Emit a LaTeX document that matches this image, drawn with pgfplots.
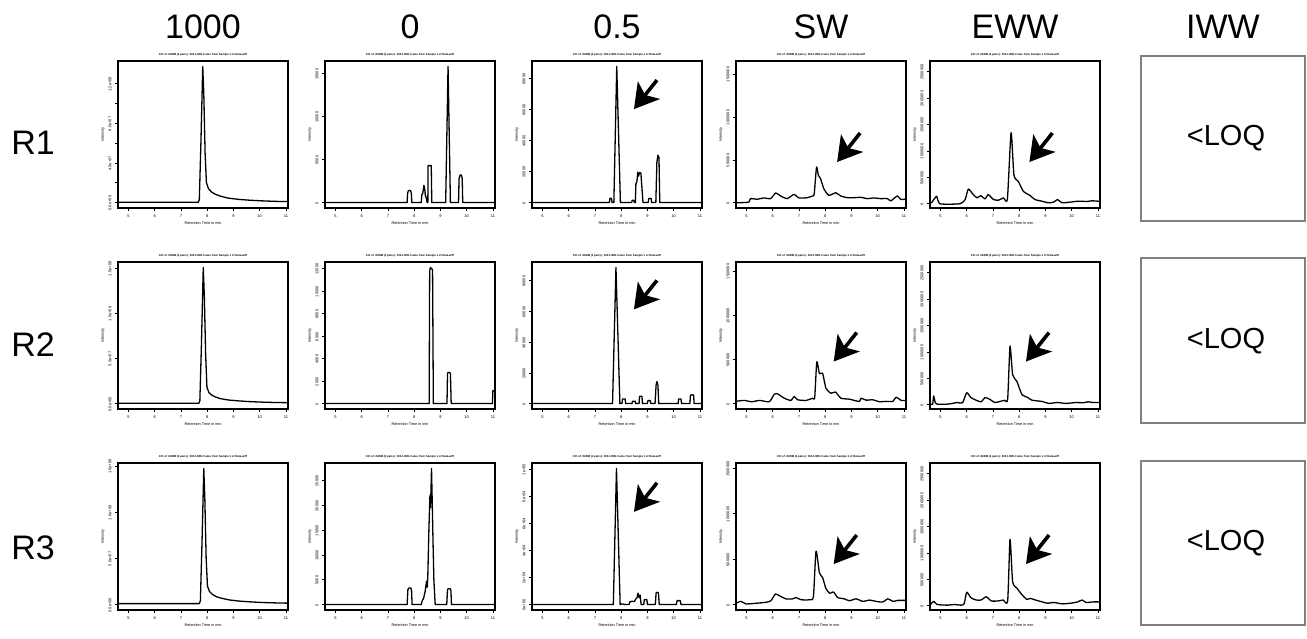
\documentclass[border=0pt]{standalone}
\usepackage{pgfplots}
\pgfplotsset{compat=1.18}
\usepackage{fontspec}
\setmainfont{Liberation Sans}
\usetikzlibrary{arrows.meta}
\tikzset{arr/.style={line width=3.6pt, -{Stealth[length=24pt,width=28pt,inset=6pt]}}}
\pgfplotsset{
 chrom/.style={
  scale only axis, width=170pt, height=147pt, anchor=north west,
  xmin=4.6, xmax=11.08, xtick={5,...,11},
  /pgf/number format/assume math mode=true,
  axis line style={line width=1.8pt},
  tick align=outside, xtick pos=bottom, ytick pos=left,
  major tick length=3pt,
  tick style={black, line width=0.7pt},
  tick label style={font=\fontsize{4}{4}\selectfont},
  yticklabel style={rotate=90, anchor=south, xshift=-0.5pt},
  xticklabel style={yshift=-0.5pt},
  scaled ticks=false,
  xlabel={Retention Time in min}, ylabel={Intensity},
  label style={font=\fontsize{3.8}{4}\selectfont},
  xlabel style={yshift=3pt}, ylabel style={yshift=-3pt},
  title style={font=\fontsize{2.8}{3}\selectfont\bfseries, yshift=-5pt},
  title={XIC of +MRM (4 pairs): 303.1/285.0 amu from Sample 1 of Data.wiff},
 },
 trace/.style={black, line width=1.3pt, line join=round, no marks},
 noisy/.style={black, line width=1.3pt, line join=round, no marks, smooth, tension=0.35},
 c1r1/.style={ymin=-5.5e6, ymax=1.43e8, ytick={0,2e7,4e7,6e7,8e7,1e8,1.2e8}, yticklabels={0.0e+00,,4.0e+07,,8.0e+07,,1.2e+08}},
 c1r2/.style={ytick={0,5e7,1e8,1.5e8}, yticklabels={0.0e+00,5.0e+07,1.0e+08,1.5e+08}},
 sw/.style={ytick={0,500000,1000000,1500000}, yticklabels={0,500000,1000000,1500000}},
 eww/.style={ymin=-80000, ymax=2.7e6, ytick={0,500000,1000000,1500000,2000000,2500000}, yticklabels={0,500000,1000000,1500000,2000000,2500000}},
}
\begin{document}
\begin{tikzpicture}
\path[use as bounding box] (0,0) rectangle (1307pt,-639pt);
% headers
\begin{scope}[every node/.style={font=\fontsize{34}{34}\selectfont}]
\node at (203pt,-27pt) {1000};
\node at (410pt,-27pt) {0};
\node at (617pt,-27pt) {0.5};
\node at (821pt,-27pt) {SW};
\node at (1015pt,-27pt) {EWW};
\node at (1223pt,-27pt) {IWW};
\node at (33pt,-143pt) {R1};
\node at (33pt,-345pt) {R2};
\node at (33pt,-548pt) {R3};
\end{scope}
% IWW boxes
\draw[gray, line width=1.2pt] (1141pt,-56pt) rectangle (1305pt,-221pt);
\draw[gray, line width=1.2pt] (1141pt,-258pt) rectangle (1305pt,-423pt);
\draw[gray, line width=1.2pt] (1141pt,-461pt) rectangle (1305pt,-625pt);
\begin{scope}[every node/.style={font=\fontsize{29}{29}\selectfont}]
\node at (1226pt,-138pt) {\textless LOQ};
\node at (1226pt,-341pt) {\textless LOQ};
\node at (1226pt,-543pt) {\textless LOQ};
\end{scope}

% ---------------- Row 1 ----------------
\begin{axis}[chrom, c1r1, at={(118pt,-61pt)}]
\addplot[trace] coordinates {(4.6,3e5)(7.66,3e5)(7.7,3e6)(7.76,6e7)(7.83,1.375e8)(7.87,1.1e8)(7.92,5e7)(7.97,2.0e7)(8.05,1.4e7)(8.15,1.1e7)(8.3,0.85e7)(8.5,0.65e7)(8.8,0.45e7)(9.2,0.32e7)(9.6,0.24e7)(10.1,0.17e7)(10.6,0.12e7)(11.08,0.1e7)};
\end{axis}
\begin{axis}[chrom, at={(325pt,-61pt)}, ymin=-634, ymax=16474, ytick={0,5000,10000,15000}, yticklabels={0,5000,10000,15000}]
\addplot[trace] coordinates {(4.6,0)(7.73,0)(7.75,1100)(7.78,1400)(7.86,1400)(7.89,1100)(7.91,0)(8.27,0)(8.29,900)(8.33,1100)(8.37,2000)(8.4,1600)(8.43,700)(8.46,600)(8.49,0)(8.52,0)(8.53,4300)(8.65,4300)(8.67,0)(9.2,0)(9.29,15840)(9.38,0)(9.69,0)(9.71,2800)(9.75,3200)(9.8,3200)(9.83,2800)(9.85,0)(11.08,0)};
\end{axis}
\begin{axis}[chrom, at={(532pt,-61pt)}, ymin=-3508, ymax=91208, ytick={0,20000,40000,60000,80000}, yticklabels={0,20000,40000,60000,80000}]
\addplot[trace] coordinates {(4.6,0)(7.55,0)(7.57,2700)(7.63,2700)(7.65,0)(7.72,0)(7.83,87700)(7.97,0)(8.4,0)(8.42,1500)(8.48,1500)(8.5,0)(8.54,0)(8.56,12000)(8.6,13500)(8.63,19600)(8.66,17000)(8.7,19300)(8.75,19000)(8.78,12000)(8.83,0)(9.03,0)(9.05,2600)(9.14,2700)(9.16,0)(9.32,0)(9.36,26000)(9.4,30500)(9.44,29000)(9.47,0)(11.08,0)};
\draw[arr] (rel axis cs:0.735,0.87) -- ++(-23pt,-29pt);
\end{axis}
\begin{axis}[chrom, sw, at={(736pt,-61pt)}, ymin=-60000, ymax=1.65e6]
\addplot[noisy] coordinates {(4.6,0)(4.9,3400)(5.1,10000)(5.15,49000)(5.41,42000)(5.66,57000)(5.92,49000)(6.11,114000)(6.3,80000)(6.55,49000)(6.81,98000)(7.0,57000)(7.32,60000)(7.51,80000)(7.58,100000)(7.67,417000)(7.74,320000)(7.82,284000)(7.95,163000)(8.14,87000)(8.4,117000)(8.59,80000)(8.84,60000)(9.09,60000)(9.35,64000)(9.61,49000)(9.86,57000)(10.11,49000)(10.37,49000)(10.5,23000)(10.75,80000)(10.88,40000)(11.08,45000)};
\draw[arr] (rel axis cs:0.73,0.51) -- ++(-23pt,-29pt);
\end{axis}
\begin{axis}[chrom, eww, at={(930pt,-61pt)}]
\addplot[noisy] coordinates {(4.6,18500)(4.66,18500)(4.85,142000)(4.98,0)(5.74,0)(5.94,80000)(6.06,278000)(6.25,173000)(6.4,111000)(6.53,154000)(6.7,93000)(6.82,173000)(7.02,80000)(7.21,68000)(7.4,111000)(7.55,93000)(7.69,1345000)(7.8,543000)(7.97,420000)(8.16,235000)(8.42,154000)(8.6,80000)(8.86,49000)(9.11,18500)(9.31,31000)(9.46,80000)(9.63,18500)(9.94,31000)(10.26,49000)(10.58,43000)(10.77,56000)(11.08,46000)};
\draw[arr] (rel axis cs:0.72,0.51) -- ++(-23pt,-29pt);
\end{axis}

% ---------------- Row 2 ----------------
\begin{axis}[chrom, c1r2, at={(118pt,-262pt)}, ymin=-6.0e6, ymax=1.57e8]
\addplot[trace] coordinates {(4.6,3e5)(7.68,3e5)(7.72,3e6)(7.78,6.5e7)(7.85,1.51e8)(7.89,1.2e8)(7.94,5.5e7)(7.99,1.8e7)(8.07,1.2e7)(8.17,0.95e7)(8.3,0.75e7)(8.5,0.55e7)(8.8,0.4e7)(9.2,0.3e7)(9.6,0.22e7)(10.1,0.16e7)(10.6,0.12e7)(11.08,0.1e7)};
\end{axis}
\begin{axis}[chrom, at={(325pt,-262pt)}, ymin=-484, ymax=12584, ytick={0,2000,4000,6000,8000,10000,12000}, yticklabels={0,2000,4000,6000,8000,10000,12000}]
\addplot[trace] coordinates {(4.6,0)(8.57,0)(8.59,11800)(8.62,12100)(8.7,11900)(8.73,0)(9.25,0)(9.27,2700)(9.3,2780)(9.38,2700)(9.41,0)(10.98,0)(11.0,1150)(11.08,1150)};
\end{axis}
\begin{axis}[chrom, at={(532pt,-262pt)}, ymin=-3548, ymax=92248, ytick={0,20000,40000,60000,80000}, yticklabels={0,20000,40000,60000,80000}]
\addplot[trace] coordinates {(4.6,0)(7.67,0)(7.8,88700)(7.95,0)(8.03,0)(8.05,3000)(8.15,3000)(8.17,0)(8.41,0)(8.43,1500)(8.53,1500)(8.55,0)(8.68,0)(8.7,4700)(8.79,4700)(8.81,0)(9.0,0)(9.02,1900)(9.11,1900)(9.13,0)(9.29,0)(9.33,12000)(9.36,14300)(9.4,12000)(9.43,0)(10.17,0)(10.19,3000)(10.28,3000)(10.3,0)(10.62,0)(10.64,5500)(10.72,5700)(10.76,5500)(10.78,0)(11.08,0)};
\draw[arr] (rel axis cs:0.735,0.875) -- ++(-23pt,-29pt);
\end{axis}
\begin{axis}[chrom, sw, at={(736pt,-262pt)}, ymin=-60000, ymax=1.6e6]
\addplot[noisy] coordinates {(4.6,26000)(4.9,37000)(5.2,22000)(5.5,37000)(5.87,22000)(6.06,107000)(6.19,110000)(6.44,62000)(6.69,37000)(6.82,81000)(6.95,44000)(7.27,37000)(7.52,62000)(7.6,70000)(7.68,474000)(7.78,338000)(7.9,345000)(8.03,173000)(8.22,118000)(8.39,132000)(8.6,62000)(8.92,51000)(9.2,30000)(9.31,26000)(9.37,62000)(9.56,40000)(9.81,44000)(10.07,22000)(10.32,26000)(10.58,26000)(10.7,73000)(10.9,37000)(11.08,37000)};
\draw[arr] (rel axis cs:0.71,0.52) -- ++(-23pt,-29pt);
\end{axis}
\begin{axis}[chrom, eww, at={(930pt,-262pt)}]
\addplot[noisy] coordinates {(4.6,12000)(4.7,12000)(4.74,167000)(4.8,40000)(4.87,12000)(5.26,12000)(5.45,25000)(5.64,43000)(5.84,37000)(6.0,228000)(6.16,136000)(6.36,86000)(6.55,56000)(6.7,136000)(6.87,105000)(7.07,43000)(7.26,62000)(7.45,86000)(7.56,105000)(7.65,1111000)(7.75,568000)(7.91,444000)(8.1,198000)(8.33,136000)(8.49,86000)(8.88,62000)(9.13,25000)(9.46,43000)(9.78,25000)(10.17,43000)(10.43,37000)(10.62,56000)(10.81,43000)(11.08,43000)};
\draw[arr] (rel axis cs:0.70,0.52) -- ++(-23pt,-29pt);
\end{axis}

% ---------------- Row 3 ----------------
\begin{axis}[chrom, c1r2, at={(118pt,-463pt)}, ymin=-5.9e6, ymax=1.534e8]
\addplot[trace] coordinates {(4.6,1e6)(7.7,1e6)(7.74,4e6)(7.8,6.5e7)(7.87,1.475e8)(7.91,1.15e8)(7.96,5e7)(8.01,2.0e7)(8.09,1.4e7)(8.2,1.1e7)(8.35,0.85e7)(8.55,0.68e7)(8.85,0.5e7)(9.2,0.38e7)(9.6,0.3e7)(10.1,0.22e7)(10.6,0.18e7)(11.08,0.15e7)};
\end{axis}
\begin{axis}[chrom, at={(325pt,-463pt)}, ymin=-1096, ymax=28496, ytick={0,5000,10000,15000,20000,25000}, yticklabels={0,5000,10000,15000,20000,25000}]
\addplot[trace] coordinates {(4.6,0)(7.73,0)(7.76,3000)(7.8,3350)(7.87,3350)(7.9,2800)(7.92,0)(8.27,0)(8.3,700)(8.36,1300)(8.42,2700)(8.47,4700)(8.5,3500)(8.52,6000)(8.56,15000)(8.6,22000)(8.62,19500)(8.64,23000)(8.66,27400)(8.69,20000)(8.72,12000)(8.75,5000)(8.8,0)(9.24,0)(9.27,3000)(9.3,3200)(9.37,3200)(9.4,2800)(9.42,0)(11.08,0)};
\end{axis}
\begin{axis}[chrom, at={(532pt,-463pt)}, ymin=-4016, ymax=104416, ytick={0,20000,40000,60000,80000,100000}, yticklabels={0e+00,2e+04,4e+04,6e+04,8e+04,1e+05}]
\addplot[trace] coordinates {(4.6,0)(7.7,0)(7.82,100400)(7.96,0)(8.05,500)(8.15,0)(8.3,0)(8.33,2000)(8.42,2400)(8.5,2200)(8.55,4000)(8.6,5000)(8.64,8400)(8.68,5000)(8.72,7000)(8.76,0)(8.86,0)(8.88,3600)(8.98,3600)(9.0,0)(9.3,0)(9.33,8500)(9.38,9100)(9.42,8500)(9.45,0)(10.1,0)(10.13,2900)(10.25,2900)(10.28,0)(11.08,0)};
\draw[arr] (rel axis cs:0.735,0.865) -- ++(-23pt,-29pt);
\end{axis}
\begin{axis}[chrom, sw, at={(736pt,-463pt)}, ymin=-60000, ymax=1.56e6]
\addplot[noisy] coordinates {(4.6,14000)(4.79,35000)(4.98,7000)(5.36,14000)(5.74,25000)(5.93,42000)(6.1,116000)(6.25,98000)(6.5,63000)(6.76,63000)(6.89,77000)(7.08,53000)(7.4,53000)(7.55,88000)(7.65,589000)(7.78,350000)(7.9,298000)(8.03,175000)(8.18,123000)(8.31,140000)(8.48,77000)(8.73,63000)(8.92,42000)(9.18,63000)(9.43,35000)(9.69,49000)(9.94,35000)(10.19,28000)(10.39,63000)(10.58,35000)(10.77,46000)(10.96,46000)(11.08,46000)};
\draw[arr] (rel axis cs:0.71,0.51) -- ++(-23pt,-29pt);
\end{axis}
\begin{axis}[chrom, eww, at={(930pt,-463pt)}]
\addplot[noisy] coordinates {(4.6,12000)(4.74,85000)(4.87,24000)(5.26,12000)(5.52,24000)(5.78,12000)(5.9,36000)(6.0,255000)(6.16,152000)(6.36,109000)(6.55,109000)(6.74,170000)(6.94,91000)(7.19,91000)(7.39,109000)(7.56,91000)(7.65,1256000)(7.75,455000)(7.91,334000)(8.1,212000)(8.29,121000)(8.42,140000)(8.62,109000)(8.88,73000)(9.07,49000)(9.33,61000)(9.65,36000)(9.97,49000)(10.23,73000)(10.4,109000)(10.55,61000)(10.81,73000)(11.08,73000)};
\draw[arr] (rel axis cs:0.70,0.51) -- ++(-23pt,-29pt);
\end{axis}
\end{tikzpicture}
\end{document}
